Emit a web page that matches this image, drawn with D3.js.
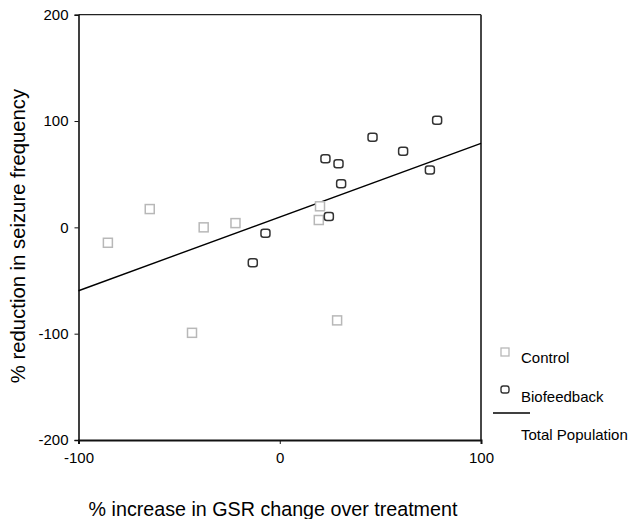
<!DOCTYPE html>
<html><head><meta charset="utf-8">
<script src="https://cdn.jsdelivr.net/npm/d3@7"></script>
<style>body{margin:0;background:#fff;} text{font-family:"Liberation Sans",Arial,sans-serif;fill:#000;}</style>
</head><body><svg id="c" width="629" height="519"></svg>
<script>
const controlX = [-85.4, -64.6, -37.8, -22.0, -43.6, 28.5, 20.0, 19.4];
const controlY = [-14.5, 17.2, 0.0, 4.0, -99.2, -87.5, 19.8, 6.9];
const bioX = [-7.1, -13.4, 22.7, 29.2, 30.5, 24.4, 46.1, 61.3, 78.2, 74.6];
const bioY = [-5.6, -33.3, 64.5, 59.8, 41.0, 10.3, 84.7, 71.5, 100.7, 53.9];
const fitX = [-100, 100];
const fitY = [-59.6, 79.0];
const xTicks = [-100, 0, 100];
const yTicks = [-200, -100, 0, 100, 200];
const legendLabels = ["Control", "Biofeedback", "Total Population"];
const xTitle = "% increase in GSR change over treatment";
const yTitle = "% reduction in seizure frequency";

const svg = d3.select("#c");
const L = 78.5, R = 481, T = 14.7, B = 440;
const x = d3.scaleLinear().domain([-100, 100]).range([L, R]);
const y = d3.scaleLinear().domain([-200, 200]).range([B, T]);
const fmt = d => String(d);

// frame
svg.append("line").attr("x1", L).attr("x2", R).attr("y1", T).attr("y2", T).attr("stroke", "#222").attr("stroke-width", 1.3);
svg.append("line").attr("x1", R).attr("x2", R).attr("y1", T).attr("y2", B).attr("stroke", "#333").attr("stroke-width", 1.8);

const ya = svg.append("g").attr("transform", `translate(${L},0)`)
  .call(d3.axisLeft(y).tickValues(yTicks).tickFormat(fmt).tickSize(4).tickPadding(6));
ya.select(".domain").attr("stroke", "#111").attr("stroke-width", 1.6);
ya.selectAll("text").style("font-size", "15px").attr("fill", "#000");
const xa = svg.append("g").attr("transform", `translate(0,${B})`)
  .call(d3.axisBottom(x).tickValues(xTicks).tickFormat(fmt).tickSize(4).tickPadding(8));
xa.select(".domain").attr("stroke", "#111").attr("stroke-width", 2);
xa.selectAll("text").style("font-size", "15px").attr("fill", "#000");
svg.selectAll(".tick line").attr("stroke", "#111");

// fit line
svg.append("line").attr("x1", x(fitX[0])).attr("y1", y(fitY[0])).attr("x2", x(fitX[1])).attr("y2", y(fitY[1]))
  .attr("stroke", "#000").attr("stroke-width", 1.4);

const s = 9;
svg.selectAll(".ctl").data(d3.range(controlX.length)).join("rect")
  .attr("x", i => x(controlX[i]) - s/2).attr("y", i => y(controlY[i]) - s/2)
  .attr("width", s).attr("height", s).attr("fill", "#fff").attr("stroke", "#b8b8b8").attr("stroke-width", 1.5);
svg.selectAll(".bio").data(d3.range(bioX.length)).join("rect")
  .attr("x", i => x(bioX[i]) - s/2).attr("y", i => y(bioY[i]) - s/2 + 0.5)
  .attr("width", s).attr("height", s - 1).attr("rx", 2.5)
  .attr("fill", "#fff").attr("stroke", "#333").attr("stroke-width", 1.5);

// legend
const lg = svg.append("g");
lg.append("rect").attr("x", 501).attr("y", 348).attr("width", 8).attr("height", 8)
  .attr("fill", "#fff").attr("stroke", "#b8b8b8").attr("stroke-width", 1.3);
lg.append("rect").attr("x", 501).attr("y", 386).attr("width", 8).attr("height", 7).attr("rx", 2.2)
  .attr("fill", "#fff").attr("stroke", "#333").attr("stroke-width", 1.4);
lg.append("line").attr("x1", 493).attr("x2", 530).attr("y1", 413).attr("y2", 413).attr("stroke", "#000").attr("stroke-width", 1.3);
const ly = [358, 397, 435];
legendLabels.forEach((t, i) => lg.append("text").attr("x", 521).attr("y", ly[i]).attr("dy", "0.35em")
  .style("font-size", "15px").text(t));

svg.append("text").attr("x", 273).attr("y", 509).attr("dy", "0.35em").attr("text-anchor", "middle")
  .style("font-size", "19.7px").text(xTitle);
svg.append("text").attr("transform", "translate(18,236) rotate(-90)").attr("dy", "0.35em").attr("text-anchor", "middle")
  .style("font-size", "20.3px").text(yTitle);
</script></body></html>
